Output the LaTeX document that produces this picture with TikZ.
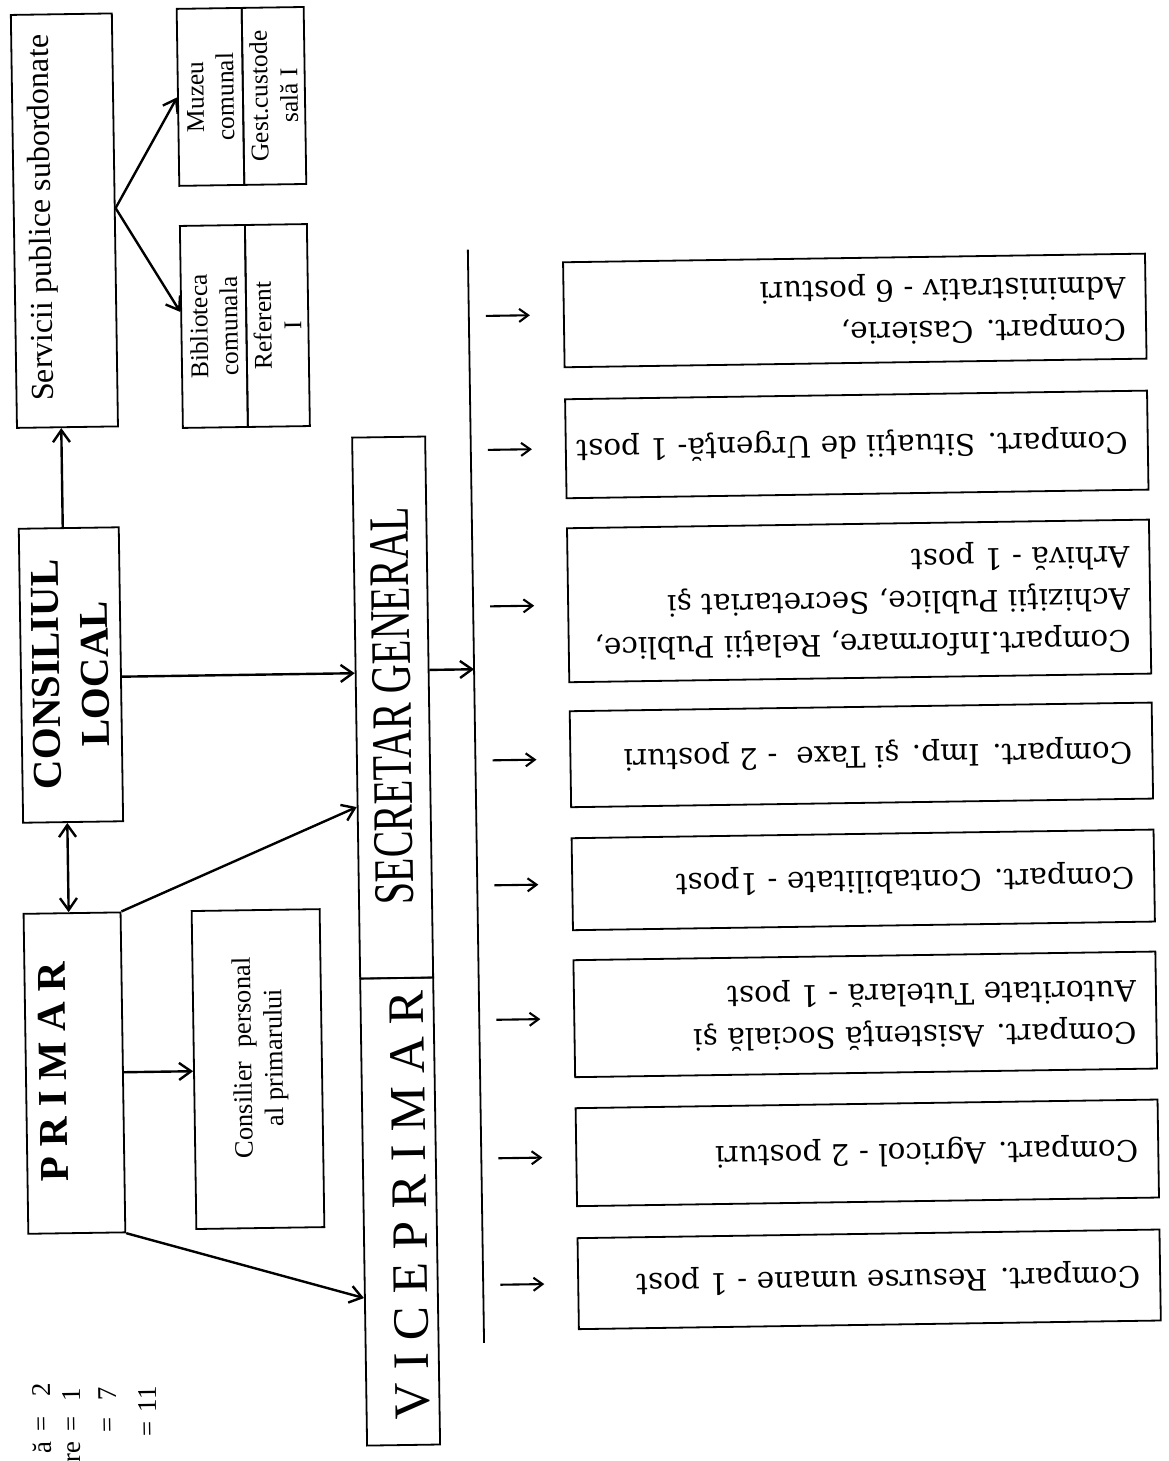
\documentclass[tikz,border=0pt]{standalone}
\usepackage{graphicx}
\usepackage{fontspec}
\setmainfont{Liberation Serif}
\newfontfamily\cfont{DejaVu Serif}
\usetikzlibrary{arrows.meta}
\newcommand{\ctext}[1]{\rotatebox{180}{\makebox[542pt][l]{\cfont\fontsize{29.5}{42}\selectfont\begin{tabular}{@{}l@{}}#1\end{tabular}}}}
\begin{document}
\begin{tikzpicture}[x=1pt,y=-1pt,
  box/.style={draw, line width=1.8pt, inner sep=0pt},
  cbox/.style={box, minimum width=582pt},
  arr/.style={line width=2.4pt, -{Straight Barb[length=12pt,width=17pt]}},
  darr/.style={line width=2.4pt, {Straight Barb[length=12pt,width=17pt]}-{Straight Barb[length=12pt,width=17pt]}},
  sarr/.style={line width=2.1pt, -{Straight Barb[length=9pt,width=13pt]}},
  vtxt/.style={rotate=90, inner sep=0pt, align=center},
  ltxt/.style={rotate=90, anchor=east, inner sep=0pt, font=\fontsize{27}{30}\selectfont},
]
\fill[white] (0,0) rectangle (1168,1461);
\useasboundingbox (0,0) rectangle (1168,1461);
\begin{scope}[rotate around={0.85:(584,730)}, transform shape]
% services
\node[box, minimum width=101pt, minimum height=413pt] (serv) at (72,213) {};
\node[vtxt, font=\fontsize{32}{38}\selectfont] (servt) at (50.6,210) {Servicii publice subordonate};
\node[box, minimum width=65pt, minimum height=177pt] (muz1) at (219.9,91.4) {};
\node[box, minimum width=62pt, minimum height=177pt] (muz2) at (283.4,91.4) {};
\node[vtxt, font=\fontsize{25.5}{30}\selectfont] (muz1t) at (muz1) {Muzeu\\comunal};
\node[vtxt, font=\fontsize{25.5}{30}\selectfont] (muz2t) at (muz2) {Gest.custode\\sală I};
\node[box, minimum width=65pt, minimum height=202pt] (bib1) at (219.9,321) {};
\node[box, minimum width=62pt, minimum height=202pt] (bib2) at (283.4,321) {};
\node[vtxt, font=\fontsize{25.5}{30}\selectfont] (bib1t) at (bib1) {Biblioteca\\comunala};
\node[vtxt, font=\fontsize{25.5}{30}\selectfont] (bib2t) at (bib2) {Referent\\I};
% council, mayor
\node[box, minimum width=100pt, minimum height=294pt] (cons) at (71.8,667.4) {};
\node[vtxt, font=\fontsize{41}{49}\selectfont\bfseries] (const) at (71.4,666.6) {CONSILIUL\\LOCAL};
\node[box, minimum width=97pt, minimum height=320pt] (prim) at (69.4,1065.5) {};
\node[vtxt, font=\fontsize{41}{49}\selectfont\bfseries] (primt) at (47.9,1064) {P R I M A R};
\node[box, minimum width=128pt, minimum height=318pt] (cp) at (253,1064.2) {};
\node[vtxt, font=\fontsize{26.5}{31}\selectfont] (cpt) at (255.6,1053) {Consilier\hspace{14pt}personal\\al primarului};
% secretary / vice mayor
\node[box, minimum width=73pt, minimum height=541pt] (sec) at (393,704.7) {};
\node[vtxt, font=\fontsize{40}{48}\selectfont] (sect) at (392.4,703) {\scalebox{1}[1.43]{SECRETAR GENERAL}};
\node[box, minimum width=73pt, minimum height=467pt] (vice) at (393,1208.8) {};
\node[vtxt, font=\fontsize{51}{60}\selectfont] (vicet) at (403,1202.4) {V I C E P R I M A R};
% bus
\coordinate (bustop) at (475,248);
\coordinate (busbot) at (475,1341.5);
\draw[line width=1.8pt] (bustop) -- (busbot);
% compartments
\node[cbox, minimum height=105pt] (c1) at (861,314.5) {\ctext{Compart. Casierie,\\Administrativ - 6 posturi}};
\node[cbox, minimum height=99pt] (c2) at (861,448.5) {\ctext{Compart. Situaţii de Urgenţă- 1 post}};
\node[cbox, minimum height=154pt] (c3) at (861,605) {\ctext{Compart.Informare, Relaţii Publice,\\Achiziţii Publice, Secretariat şi\\Arhivă - 1 post}};
\node[cbox, minimum height=96pt] (c4) at (861,759) {\ctext{Compart. Imp. şi Taxe\hspace{19pt}- 2 posturi}};
\node[cbox, minimum height=92pt] (c5) at (861,884) {\ctext{Compart. Contabilitate - 1post}};
\node[cbox, minimum height=117pt] (c6) at (861,1018.5) {\ctext{Compart. Asistenţă Socială şi\\Autoritate Tutelară - 1 post}};
\node[cbox, minimum height=98pt] (c7) at (861,1157) {\ctext{Compart. Agricol - 2 posturi}};
\node[cbox, minimum height=91pt] (c8) at (861,1283.5) {\ctext{Compart. Resurse umane - 1 post}};
\foreach \n in {c1,c2,c3,c4,c5,c6,c7,c8}
  \draw[sarr] ([xshift=-77pt]\n.west) -- ([xshift=-33pt]\n.west);
% connectors
\coordinate (pc) at ([xshift=-3.4pt]prim.north);
\draw[darr] (pc) -- (pc |- cons.south);
\coordinate (cs) at ([xshift=-6pt]cons.north);
\draw[arr] (cs) -- (cs |- serv.south);
\coordinate (ce) at ([yshift=-2.5pt]cons.east);
\draw[arr] (ce) -- (ce -| sec.west);
\draw[arr] (prim.north east) -- ([yshift=-99pt]sec.west);
\draw[arr] (prim.south east) -- ([yshift=-86pt]vice.west);
\coordinate (pe) at (prim.east);
\draw[arr] (pe) -- (pe -| cp.west);
\coordinate (se) at ([yshift=11.8pt]serv.east);
\draw[arr] (se) -- (muz1.west);
\draw[arr] (se) -- ([yshift=15pt]bib1.west);
\coordinate (sb) at ([yshift=37pt]sec.east);
\draw[arr] (sb) -- (sb -| bustop);
% legend fragments
\node[ltxt] (l1) at (31.3,1375) {ă\hspace{10pt}=\hspace{20pt}2};
\node[ltxt] (l2) at (61.3,1380.4) {re\hspace{10pt}=\hspace{15pt}1};
\node[ltxt] (l3) at (97.3,1380) {=\hspace{17pt}7};
\node[ltxt] (l4) at (137.4,1379.5) {=\hspace{9pt}11};
\end{scope}
\end{tikzpicture}
\end{document}
